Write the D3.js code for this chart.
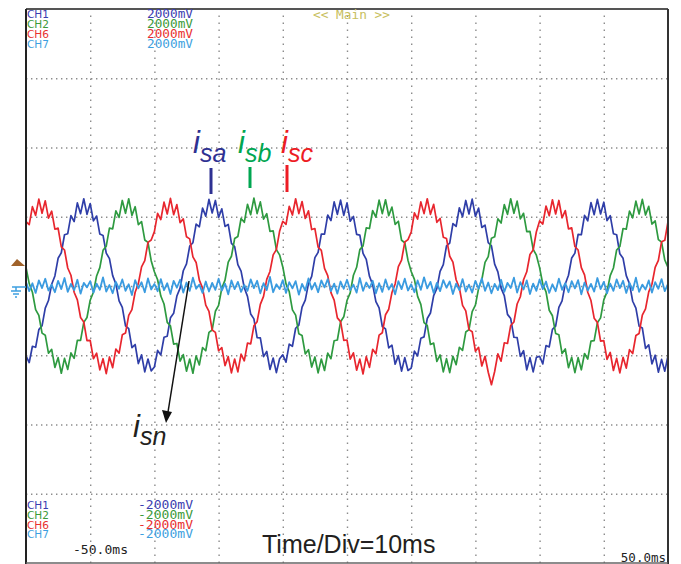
<!DOCTYPE html>
<html>
<head>
<meta charset="utf-8">
<script src="https://cdn.jsdelivr.net/npm/d3@7"></script>
<style>
  body { margin: 0; background: #fff; }
  svg { display: block; }
  .grid line { stroke: #8c8c8c; stroke-width: 1.4; }
  .mono { font-family: 'DejaVu Sans Mono', monospace; }
  .lbl { font-family: 'Liberation Sans', Arial, sans-serif; font-style: italic; }
</style>
</head>
<body>
<div id="chart"></div>
<script>
// scope capture, 0.5 ms per sample from -50 ms to +50 ms, values in mV
const sampleStep = 0.5;
const timeStart = -50;

// CH1 - i_sa
const isa = [
  -2020, -2210, -1740, -1770, -1260, -1150, -640, -420, 50, 290, 800, 960, 1480, 1510, 2030, 1860, 2400, 2090, 2520, 2070,
  2380, 1880, 2020, 1500, 1460, 950, 790, 300, 60, -430, -620, -1150, -1230, -1780, -1690, -2240, -1990, -2480, -2110, -2450,
  -2340, -1860, -1990, -1480, -1450, -920, -790, -290, -60, 440, 640, 1150, 1250, 1790, 1710, 2250, 2020, 2500, 2110, 2470,
  1980, 2230, 1720, 1780, 1230, 1140, 620, 430, -50, -300, -810, -950, -1490, -1500, -2040, -1890, -2410, -2080, -2500, -2100,
  -1990, -2200, -1680, -1740, -1220, -1130, -610, -410, 70, 280, 820, 970, 1500, 1500, 2050, 1890, 2430, 2070, 2480, 2040,
  2400, 1870, 2010, 1490, 1470, 940, 770, 280, 40, -450, -630, -1170, -1240, -1790, -1710, -2260, -2010, -2460, -2070, -2440,
  -2370, -1880, -2020, -1510, -1470, -940, -780, -280, -70, 420, 620, 1160, 1240, 1800, 1720, 2260, 2000, 2470, 2080, 2510,
  2010, 2250, 1690, 1760, 1250, 1160, 630, 410, -60, -280, -820, -940, -1480, -1490, -2030, -1870, -2420, -2070, -2480, -2060,
  -2030, -2250, -1720, -1760, -1250, -1160, -620, -430, 60, 310, 810, 950, 1490, 1480, 2040, 1880, 2410, 2060, 2500, 2080,
  2420, 1890, 2030, 1510, 1480, 930, 800, 300, 70, -440, -640, -1160, -1210, -1800, -1700, -2250, -2000, -2490, -2120, -2460,
  -2020
];

// CH2 - i_sb
const isb = [
  540, 70, -180, -680, -850, -1360, -1420, -1940, -1830, -2350, -2070, -2520, -2090, -2410, -1930, -2090, -1570, -1570, -1050, -910,
  -410, -180, 290, 530, 1030, 1150, 1670, 1650, 2170, 1980, 2470, 2100, 2520, 2040, 2290, 1770, 1860, 1330, 1260, 730,
  410, 180, -290, -520, -1050, -1150, -1680, -1660, -2170, -1980, -2460, -2110, -2520, -2020, -2280, -1780, -1870, -1340, -1270, -730,
  -560, -60, 170, 690, 860, 1370, 1430, 1950, 1840, 2360, 2060, 2540, 2090, 2430, 1930, 2090, 1580, 1590, 1050, 900,
  550, 60, -160, -690, -840, -1380, -1430, -1960, -1840, -2340, -2050, -2510, -2110, -2440, -1940, -2100, -1580, -1560, -1030, -890,
  -420, -200, 310, 540, 1050, 1160, 1680, 1660, 2180, 1990, 2480, 2090, 2490, 2030, 2280, 1780, 1870, 1320, 1250, 740,
  420, 190, -300, -530, -1060, -1140, -1690, -1650, -2180, -1990, -2480, -2100, -2500, -2030, -2270, -1770, -1860, -1330, -1260, -740,
  -550, -70, 180, 680, 850, 1380, 1420, 1940, 1820, 2350, 2070, 2520, 2100, 2450, 1940, 2100, 1570, 1580, 1060, 890,
  530, 50, -170, -700, -860, -1370, -1410, -1950, -1820, -2360, -2060, -2500, -2070, -2420, -1950, -2110, -1590, -1580, -1060, -920,
  -400, -170, 300, 520, 1040, 1140, 1660, 1640, 2160, 1970, 2450, 2080, 2500, 2050, 2300, 1790, 1880, 1340, 1270, 750,
  540
];

// CH6 - i_sc
const isc = [
  1860, 1770, 2290, 2040, 2510, 2100, 2460, 1960, 2160, 1640, 1670, 1130, 1040, 520, 310, -180, -400, -910, -1040, -1580,
  -1570, -2100, -1940, -2420, -2100, -2530, -2050, -2360, -1820, -1940, -1410, -1360, -850, -680, -180, 70, 550, 730, 1260, 1330,
  1570, 2100, 1920, 2420, 2080, 2530, 2060, 2350, 1830, 1940, 1420, 1360, 840, 680, 170, -60, -550, -730, -1270, -1340,
  -1870, -1780, -2300, -2040, -2510, -2110, -2480, -1970, -2160, -1650, -1670, -1150, -1030, -530, -300, 190, 420, 900, 1050, 1580,
  1870, 1780, 2300, 2050, 2520, 2090, 2440, 1950, 2170, 1630, 1660, 1120, 1030, 510, 300, -190, -410, -920, -1030, -1570,
  -1560, -2110, -1930, -2430, -2110, -2540, -2040, -2350, -1830, -1960, -1420, -1350, -830, -670, -190, 60, 560, 750, 1270, 1340,
  1560, 2110, 1930, 2430, 2090, 2520, 2070, 2360, 1840, 1950, 1410, 1370, 860, 690, 180, -50, -560, -720, -1260, -1320,
  -1880, -1770, -2310, -2030, -2490, -2850, -2470, -1960, -2170, -1640, -1660, -1140, -1040, -520, -310, 180, 410, 910, 1040, 1570,
  1880, 1790, 2310, 2030, 2490, 2080, 2470, 1970, 2180, 1650, 1680, 1140, 1040, 530, 320, -180, -420, -930, -1050, -1590,
  -1580, -2120, -1920, -2440, -2090, -2510, -2060, -2370, -1840, -1950, -1430, -1370, -840, -660, -170, 50, 540, 740, 1280, 1320,
  1860
];

// CH7 - i_sn
const isn = [
  120, -150, 80, -200, 160, -60, 210, -130, 40, -180, 150, -90, 230, -170, 60, -120, 180, -220, 90, -40,
  140, -190, 70, -110, 250, -160, 30, -210, 120, -80, 190, -140, 50, -260, 170, -70, 110, -180, 220, -100,
  60, -150, 200, -120, 80, -230, 150, -50, 180, -190, 100, -140, 240, -80, 40, -200, 130, -160, 90, -110,
  210, -130, 70, -240, 160, -90, 120, -170, 30, -140, 190, -60, 150, -210, 80, -120, 260, -180, 50, -90,
  170, -200, 110, -70, 140, -250, 60, -130, 220, -100, 90, -180, 160, -40, 200, -150, 70, -220, 130, -80,
  180, -120, 40, -190, 230, -140, 100, -60, 150, -210, 80, -170, 190, -100, 60, -240, 140, -90, 210, -130,
  50, -180, 160, -110, 250, -70, 120, -200, 90, -150, 170, -50, 130, -230, 70, -120, 200, -160, 40, -190,
  150, -80, 220, -140, 100, -210, 60, -120, 180, -170, 90, -60, 240, -190, 110, -100, 160, -230, 70, -140,
  190, -90, 130, -200, 50, -150, 210, -110, 80, -180, 140, -70, 170, -240, 100, -130, 60, -160, 230, -90,
  120, -210, 70, -140, 190, -60, 150, -200, 90, -120, 240, -170, 40, -100, 160, -190, 110, -80, 200, -150,
  60
];

// channel readout
const channels = ['CH1', 'CH2', 'CH6', 'CH7'];
const channelColors = ['#3a3db0', '#3a9a3a', '#e83030', '#3d9fe0'];
const topScale = ['2000mV', '2000mV', '2000mV', '2000mV'];
const bottomScale = ['-2000mV', '-2000mV', '-2000mV', '-2000mV'];
const timeLabels = ['-50.0ms', '50.0ms'];

// annotations
const phaseNames = ['sa', 'sb', 'sc'];
const phaseColors = ['#2e3192', '#00a651', '#ed1c24'];
const traceColors = ['#2f3ea8', '#2e9a40', '#e8262e', '#3a9be0'];

const W = 681;
const H = 564;
const mLeft = 26, mRight = 668, mTop = 9, mBottom = 563;

let svg = d3.select('#chart')
  .append('svg')
  .attr('width', W)
  .attr('height', H);

let x = d3.scaleLinear()
  .domain([-50, 50])
  .range([mLeft, mRight]);

let y = d3.scaleLinear()
  .domain([-8000, 8000])
  .range([mBottom, mTop]);

// dotted graticule
let gx = svg.append('g')
  .attr('class', 'grid')
  .attr('transform', 'translate(0,' + mBottom + ')')
  .call(d3.axisBottom(x)
    .tickValues(d3.range(-40, 50, 10))
    .tickSize(-(mBottom - mTop))
    .tickFormat(''));
gx.select('.domain').remove();
gx.selectAll('line').attr('stroke-dasharray', '1.4,5.6');

let gy = svg.append('g')
  .attr('class', 'grid')
  .attr('transform', 'translate(' + mLeft + ',0)')
  .call(d3.axisLeft(y)
    .tickValues(d3.range(-6000, 8000, 2000))
    .tickSize(-(mRight - mLeft))
    .tickFormat(''));
gy.select('.domain').remove();
gy.selectAll('line').attr('stroke-dasharray', '1.4,3.6');

// traces
let line = d3.line()
  .x((d, i) => x(timeStart + i * sampleStep))
  .y(d => y(d));

[isa, isb, isc, isn].forEach(function(series, k) {
  svg.append('path')
    .datum(series)
    .attr('fill', 'none')
    .attr('stroke', traceColors[k])
    .attr('stroke-width', k === 3 ? 1.8 : 1.7)
    .attr('stroke-linejoin', 'round')
    .attr('d', line);
});

// frame
svg.append('line')
  .attr('x1', mLeft).attr('y1', mTop).attr('x2', mRight).attr('y2', mTop)
  .attr('stroke', '#555').attr('stroke-width', 2);
svg.append('line')
  .attr('x1', mLeft).attr('y1', mTop).attr('x2', mLeft).attr('y2', H)
  .attr('stroke', '#222').attr('stroke-width', 2);
svg.append('line')
  .attr('x1', mRight).attr('y1', mTop).attr('x2', mRight).attr('y2', H)
  .attr('stroke', '#333').attr('stroke-width', 2);
svg.append('line')
  .attr('x1', mLeft).attr('y1', mBottom).attr('x2', mRight).attr('y2', mBottom)
  .attr('stroke', '#666').attr('stroke-width', 1.5);

// channel readouts, top and bottom
channels.forEach(function(c, k) {
  let yt = 18 + k * 10;
  let yb = 509 + k * 9.8;
  svg.append('text')
    .attr('x', 27).attr('y', yt)
    .attr('font-family', 'DejaVu Sans, sans-serif')
    .attr('font-size', 11)
    .attr('textLength', 22).attr('lengthAdjust', 'spacingAndGlyphs')
    .attr('fill', channelColors[k])
    .text(c);
  svg.append('text')
    .attr('class', 'mono')
    .attr('x', 147).attr('y', yt)
    .attr('font-size', 11.5)
    .attr('textLength', 46).attr('lengthAdjust', 'spacingAndGlyphs')
    .attr('fill', channelColors[k])
    .text(topScale[k]);
  svg.append('text')
    .attr('x', 27).attr('y', yb)
    .attr('font-family', 'DejaVu Sans, sans-serif')
    .attr('font-size', 11)
    .attr('textLength', 22).attr('lengthAdjust', 'spacingAndGlyphs')
    .attr('fill', channelColors[k])
    .text(c);
  svg.append('text')
    .attr('class', 'mono')
    .attr('x', 138).attr('y', yb)
    .attr('font-size', 11.5)
    .attr('textLength', 55).attr('lengthAdjust', 'spacingAndGlyphs')
    .attr('fill', channelColors[k])
    .text(bottomScale[k]);
});

svg.append('text')
  .attr('class', 'mono')
  .attr('x', 313).attr('y', 19)
  .attr('font-size', 11.5)
  .attr('textLength', 77).attr('lengthAdjust', 'spacingAndGlyphs')
  .attr('fill', '#c8c060')
  .text('<< Main >>');

svg.append('text')
  .attr('class', 'mono')
  .attr('x', 73).attr('y', 554)
  .attr('font-size', 12.5)
  .attr('textLength', 55).attr('lengthAdjust', 'spacingAndGlyphs')
  .attr('fill', '#222')
  .text(timeLabels[0]);

svg.append('text')
  .attr('class', 'mono')
  .attr('x', 666).attr('y', 562)
  .attr('text-anchor', 'end')
  .attr('font-size', 12.5)
  .attr('fill', '#222')
  .text(timeLabels[1]);

svg.append('text')
  .attr('x', 262).attr('y', 553)
  .attr('font-family', 'Liberation Sans, Arial, sans-serif')
  .attr('font-size', 25)
  .attr('fill', '#231f20')
  .text('Time/Div=10ms');

// trigger level marker and ground symbol
svg.append('polygon')
  .attr('points', '11,266 25,266 17,259')
  .attr('fill', '#a0622a');
let gnd = svg.append('g')
  .attr('stroke', '#3d9fe0')
  .attr('stroke-width', 1.5);
gnd.append('line').attr('x1', 12).attr('y1', 287).attr('x2', 26).attr('y2', 287);
gnd.append('line').attr('x1', 16).attr('y1', 287).attr('x2', 16).attr('y2', 291);
gnd.append('line').attr('x1', 11).attr('y1', 291).attr('x2', 21).attr('y2', 291);
gnd.append('line').attr('x1', 13).attr('y1', 294).attr('x2', 19).attr('y2', 294);
gnd.append('line').attr('x1', 15).attr('y1', 297).attr('x2', 17).attr('y2', 297);

// phase labels with pointer ticks
let phaseLabelX = [193, 238, 281];
let phaseTick = [[211, 168, 194], [250, 167, 188], [287, 165, 192]];
phaseNames.forEach(function(n, k) {
  let t = svg.append('text')
    .attr('class', 'lbl')
    .attr('x', phaseLabelX[k]).attr('y', 153)
    .attr('fill', phaseColors[k]);
  t.append('tspan').attr('font-size', 31).text('i');
  t.append('tspan').attr('font-size', 25).attr('dy', 9).text(n);
  svg.append('line')
    .attr('x1', phaseTick[k][0]).attr('y1', phaseTick[k][1])
    .attr('x2', phaseTick[k][0]).attr('y2', phaseTick[k][2])
    .attr('stroke', phaseColors[k])
    .attr('stroke-width', 3);
});

// neutral current label and arrow
let tn = svg.append('text')
  .attr('class', 'lbl')
  .attr('x', 133).attr('y', 437)
  .attr('fill', '#231f20');
tn.append('tspan').attr('font-size', 31).text('i');
tn.append('tspan').attr('font-size', 25).attr('dy', 8).text('sn');

svg.append('line')
  .attr('x1', 189).attr('y1', 281)
  .attr('x2', 168).attr('y2', 412)
  .attr('stroke', '#111')
  .attr('stroke-width', 1.5);
svg.append('polygon')
  .attr('points', '166,423 162,410 172,412')
  .attr('fill', '#111');
</script>
</body>
</html>
